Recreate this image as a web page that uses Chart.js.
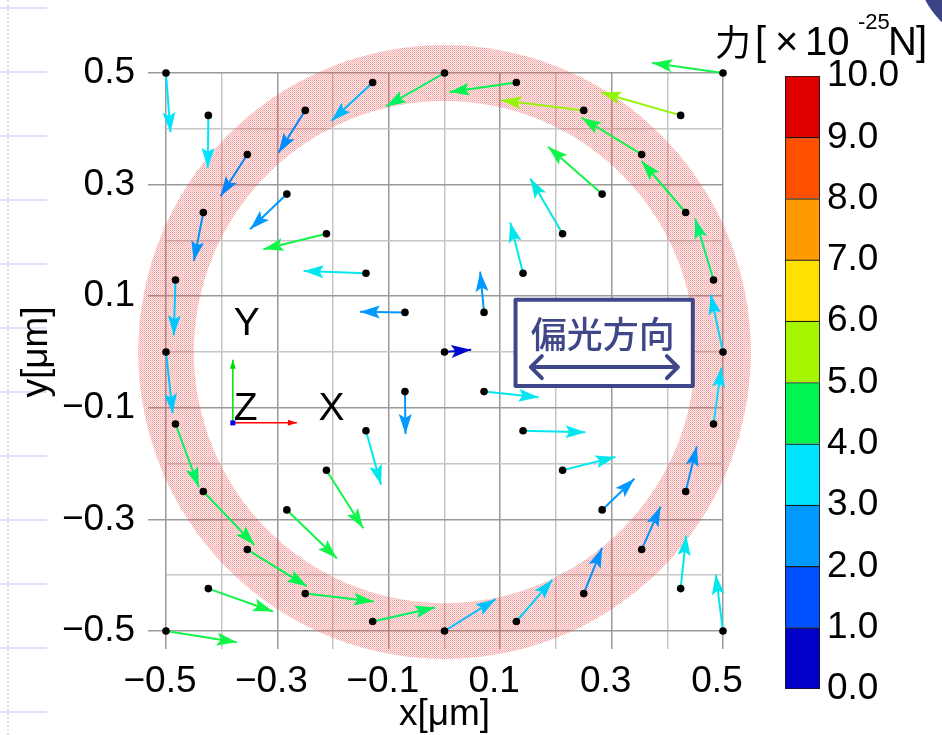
<!DOCTYPE html>
<html><head><meta charset="utf-8">
<script src="https://cdn.jsdelivr.net/npm/chart.js@4.4.1/dist/chart.umd.min.js"></script>
<style>
html,body{margin:0;padding:0;background:#fff;}
#wrap{position:relative;width:942px;height:735px;overflow:hidden;background:#fff;}
#main{position:absolute;left:0;top:0;}
#bar{position:absolute;left:700px;top:0;}
.deco-h{position:absolute;left:0;top:0;width:47px;height:735px;
 background:repeating-linear-gradient(to bottom,transparent 0px,transparent 7px,#dde4f6 7px,#dde4f6 9px,transparent 9px,transparent 64px);}
.deco-v{position:absolute;left:7px;top:0;width:0;height:735px;border-left:2px dotted #d6def4;}
.corner{position:absolute;left:917px;top:-113px;width:156px;height:156px;border-radius:50%;background:#3b4586;}
</style></head>
<body><div id="wrap">
<div class="deco-h"></div><div class="deco-v"></div><div class="corner"></div>
<canvas id="main" width="942" height="735"></canvas>
<canvas id="bar" width="242" height="735"></canvas>
</div>
<script>
// ---- data ----
const startX = [-0.5,-0.424,-0.354,-0.25,-0.129,0,0.129,0.25,0.354,0.433,0.483,0.5,0.483,0.433,0.354,0.25,0.129,0,-0.129,-0.25,-0.354,-0.433,-0.483,-0.5,-0.483,-0.433,
  -0.283,-0.212,-0.141,-0.071,0,0.071,0.141,0.212,0.283,0.424,0.5,0.071,0.141,0.212,0.283,0.424,0.5,-0.071,-0.141,-0.212,-0.283,-0.424,-0.5];
const startY = [0.5,0.424,0.354,0.433,0.483,0.5,0.483,0.433,0.354,0.25,0.129,0,-0.129,-0.25,-0.354,-0.433,-0.483,-0.5,-0.483,-0.433,-0.354,-0.25,-0.129,0,0.129,0.25,
  0.283,0.212,0.141,0.071,0,0.071,0.141,0.212,0.283,0.424,0.5,-0.071,-0.141,-0.212,-0.283,-0.424,-0.5,-0.071,-0.141,-0.212,-0.283,-0.424,-0.5];
const forceU = [0.008,-0.001,-0.048,-0.048,-0.074,-0.105,-0.120,-0.148,-0.108,-0.079,-0.033,-0.022,0.014,0.020,0.034,0.033,0.065,0.092,0.112,0.123,0.107,0.092,0.042,0.012,-0.003,-0.017,
  -0.066,-0.113,-0.112,-0.081,0.048,-0.007,-0.023,-0.058,-0.097,-0.143,-0.127,0.098,0.112,0.095,0.058,0.010,-0.013,0.001,0.027,0.066,0.090,0.116,0.127];
const forceV = [-0.106,-0.094,-0.075,-0.076,-0.069,-0.060,-0.017,0.018,0.066,0.092,0.110,0.103,0.101,0.081,0.077,0.082,0.075,0.057,0.025,-0.014,-0.066,-0.096,-0.113,-0.110,-0.099,-0.087,
  -0.063,-0.028,0.004,0.001,0.004,0.073,0.091,0.099,0.085,0.041,0.018,-0.010,-0.003,0.024,0.056,0.095,0.101,-0.076,-0.097,-0.104,-0.087,-0.041,-0.020];
const forceMag = [3.5,3.5,2.2,2.3,2.9,4.4,4.5,5.4,4.6,4.5,4.3,3.3,3.4,2.4,2.4,2.4,3.2,3.0,4.4,4.5,4.5,4.5,4.4,3.1,3.1,2.4,
  2.5,4.6,3.6,2.5,0.6,2.5,3.6,3.7,4.6,5.4,4.6,3.6,3.6,3.6,2.5,3.6,3.6,2.5,3.6,4.6,4.6,4.6,4.6];
const gridValues = [-0.5,-0.4,-0.3,-0.2,-0.1,0,0.1,0.2,0.3,0.4,0.5];
const tickValues = [-0.5,-0.3,-0.1,0.1,0.3,0.5];
const tickLabels = ['\u22120.5','\u22120.3','\u22120.1','0.1','0.3','0.5'];
const colorLevels = [0,1,2,3,4,5,6,7,8,9,10];
const levelColors = ['#0000c8','#0050ff','#0099ff','#00e5ff','#00f550','#a6f500','#ffe000','#ff9a00','#ff5000','#e00000'];
const ringRadii = [0.45,0.55];

// ---- helpers ----
Chart.defaults.font.family = '"Liberation Sans", Arial, sans-serif';
function hexRgb(h){return [parseInt(h.slice(1,3),16),parseInt(h.slice(3,5),16),parseInt(h.slice(5,7),16)];}
function colorFor(f){
  const t=Math.min(Math.max(f-0.5,0),9), i=Math.min(Math.floor(t),8), a=t-i;
  const c0=hexRgb(levelColors[i]), c1=hexRgb(levelColors[i+1]);
  return 'rgb('+c0.map((c,k)=>Math.round(c+(c1[k]-c)*a)).join(',')+')';
}
function labelFor(v){const k=tickValues.findIndex(t=>Math.abs(t-v)<1e-6);return k>=0?tickLabels[k]:'';}
function isMajor(v){return tickValues.some(t=>Math.abs(t-v)<1e-6);}
const majorCol='#9a9a9a', minorCol='#c6c6c6';

// ring pattern (halftone-like red dots)
const pc=document.createElement('canvas');pc.width=2;pc.height=2;
const pctx=pc.getContext('2d');
pctx.fillStyle='rgba(238,55,55,0.5)';pctx.fillRect(0,0,1,1);
pctx.fillStyle='rgba(238,55,55,0.36)';pctx.fillRect(1,1,1,1);
pctx.fillStyle='rgba(242,130,130,0.14)';pctx.fillRect(1,0,1,1);pctx.fillRect(0,1,1,1);

const ringPlugin={id:'ring',beforeDatasetsDraw(chart){
  const {ctx,scales:{x,y}}=chart;
  const cx=x.getPixelForValue(0), cy=y.getPixelForValue(0);
  const rxo=x.getPixelForValue(ringRadii[1])-cx, ryo=cy-y.getPixelForValue(ringRadii[1]);
  const rxi=x.getPixelForValue(ringRadii[0])-cx, ryi=cy-y.getPixelForValue(ringRadii[0]);
  ctx.save();
  ctx.beginPath();
  ctx.ellipse(cx,cy,rxo,ryo,0,0,Math.PI*2);
  ctx.ellipse(cx,cy,rxi,ryi,0,0,Math.PI*2,true);
  ctx.fillStyle=ctx.createPattern(pc,'repeat');
  ctx.fill('evenodd');
  ctx.restore();
}};

const arrowHeads={id:'arrowHeads',afterDatasetsDraw(chart){
  const ctx=chart.ctx;
  chart.data.datasets.forEach((ds,i)=>{
    if(!ds.isArrow)return;
    const pts=chart.getDatasetMeta(i).data, p0=pts[0], p1=pts[1];
    const ang=Math.atan2(p1.y-p0.y,p1.x-p0.x);
    ctx.save();ctx.translate(p1.x,p1.y);ctx.rotate(ang);
    ctx.beginPath();ctx.moveTo(0,0);ctx.lineTo(-20,-6.5);ctx.lineTo(-16,0);ctx.lineTo(-20,6.5);ctx.closePath();
    ctx.fillStyle=ds.borderColor;ctx.fill();ctx.restore();
  });
}};

function smallArrow(ctx,x0,y0,x1,y1,col){
  ctx.strokeStyle=col;ctx.fillStyle=col;ctx.lineWidth=1.5;
  ctx.beginPath();ctx.moveTo(x0,y0);ctx.lineTo(x1,y1);ctx.stroke();
  const a=Math.atan2(y1-y0,x1-x0);
  ctx.save();ctx.translate(x1,y1);ctx.rotate(a);
  ctx.beginPath();ctx.moveTo(0,0);ctx.lineTo(-9,-3);ctx.lineTo(-9,3);ctx.closePath();ctx.fill();ctx.restore();
}

const annot={id:'annot',afterDraw(chart){
  const {ctx,scales:{x,y}}=chart;
  const X=v=>x.getPixelForValue(v), Y=v=>y.getPixelForValue(v);
  ctx.save();
  // coordinate triad
  const ox=X(-0.38), oy=Y(-0.127);
  smallArrow(ctx,ox,oy,ox,Y(-0.014),'#00dd00');
  smallArrow(ctx,ox,oy,X(-0.265),oy,'#ff0000');
  ctx.fillStyle='#0000ff';ctx.fillRect(ox-2.5,oy-2.5,5,5);
  ctx.fillStyle='#000';ctx.font='39px "Liberation Sans", Arial, sans-serif';
  ctx.textAlign='center';ctx.textBaseline='middle';
  ctx.fillText('Y',X(-0.355),Y(0.050));
  ctx.fillText('Z',X(-0.357),Y(-0.103));
  ctx.fillText('X',X(-0.203),Y(-0.103));
  // polarization box
  const bl=X(0.1275), br=X(0.4458), bt=Y(0.0935), bb=Y(-0.061);
  ctx.fillStyle='#fff';ctx.fillRect(bl,bt,br-bl,bb-bt);
  ctx.strokeStyle='#3f4789';ctx.lineWidth=4;ctx.lineJoin='round';
  ctx.strokeRect(bl,bt,br-bl,bb-bt);
  ctx.fillStyle='#3f4789';ctx.font='500 36px "Noto Sans CJK JP", sans-serif';
  ctx.fillText('偏光方向',X(0.284),Y(0.031));
  const ay=Y(-0.027), ax0=X(0.155), ax1=X(0.419);
  ctx.lineWidth=4;ctx.lineCap='round';
  ctx.beginPath();ctx.moveTo(ax0,ay);ctx.lineTo(ax1,ay);
  ctx.moveTo(ax0+11,ay-11);ctx.lineTo(ax0,ay);ctx.lineTo(ax0+11,ay+11);
  ctx.moveTo(ax1-11,ay-11);ctx.lineTo(ax1,ay);ctx.lineTo(ax1-11,ay+11);
  ctx.stroke();
  ctx.restore();
}};

const arrowDatasets=startX.map((x0,i)=>({
  isArrow:true,
  data:[{x:x0,y:startY[i]},{x:x0+forceU[i],y:startY[i]+forceV[i]}],
  showLine:true,borderColor:colorFor(forceMag[i]),borderWidth:2,
  pointRadius:0,pointHoverRadius:0,clip:false,order:1
}));
const dotDataset={data:startX.map((x0,i)=>({x:x0,y:startY[i]})),pointRadius:3.8,pointHoverRadius:3.8,
  backgroundColor:'#000',borderColor:'#000',borderWidth:0,showLine:false,clip:false,order:0};

const tickFont={size:37,family:'"Liberation Sans", Arial, sans-serif'};
new Chart(document.getElementById('main'),{
  type:'scatter',
  data:{datasets:[dotDataset,...arrowDatasets]},
  options:{
    responsive:false,animation:false,events:[],
    layout:{padding:{top:73,right:219,bottom:0,left:0}},
    plugins:{legend:{display:false},tooltip:{enabled:false}},
    scales:{
      x:{type:'linear',min:-0.5,max:0.5,
        afterFit:s=>{s.height=104;},
        afterBuildTicks:s=>{s.ticks=gridValues.map(v=>({value:v}));},
        ticks:{autoSkip:false,maxRotation:0,minRotation:0,font:tickFont,color:'#000',padding:11,labelOffset:-6,callback:v=>labelFor(v)},
        grid:{color:c=>isMajor(c.tick.value)?majorCol:minorCol,lineWidth:1.5,tickLength:18,
              tickColor:c=>isMajor(c.tick.value)?majorCol:minorCol},
        border:{display:false},
        title:{display:true,text:'x[μm]',color:'#000',font:{size:37,lineHeight:1.1},padding:{top:0,bottom:0}}
      },
      y:{type:'linear',min:-0.5,max:0.5,
        afterFit:s=>{s.width=166;},
        afterBuildTicks:s=>{s.ticks=gridValues.map(v=>({value:v}));},
        ticks:{autoSkip:false,font:tickFont,color:'#000',padding:13,callback:v=>labelFor(v)},
        grid:{color:c=>isMajor(c.tick.value)?majorCol:minorCol,lineWidth:1.5,tickLength:18,
              tickColor:c=>isMajor(c.tick.value)?majorCol:'rgba(0,0,0,0)'},
        border:{display:false},
        title:{display:true,text:'y[μm]',color:'#000',font:{size:37,lineHeight:1.1},padding:{top:16,bottom:0}}
      }
    }
  },
  plugins:[ringPlugin,arrowHeads,annot]
});

// ---- colour bar ----
const cbTitle={id:'cbTitle',afterDraw(chart){
  const ctx=chart.ctx;ctx.save();ctx.fillStyle='#000';ctx.textBaseline='alphabetic';ctx.textAlign='left';
  ctx.font='36px "Noto Sans CJK JP", sans-serif';ctx.fillText('力',15,56);
  ctx.font='40px "Liberation Sans", Arial, sans-serif';
  ctx.fillText('[',55,55);ctx.fillText('×',75,55);ctx.fillText('10',105,55);
  ctx.font='22px "Liberation Sans", Arial, sans-serif';ctx.fillText('-25',158,29);
  ctx.font='40px "Liberation Sans", Arial, sans-serif';ctx.fillText('N',188,55);ctx.fillText(']',216,55);
  ctx.restore();
}};
new Chart(document.getElementById('bar'),{
  type:'bar',
  data:{labels:[''],datasets:levelColors.map((c,i)=>({
    data:[colorLevels[i+1]-colorLevels[i]],backgroundColor:c,borderColor:'#1a1a1a',borderWidth:1.2,
    borderSkipped:i===0?false:'start',barPercentage:1,categoryPercentage:1}))},
  options:{
    responsive:false,animation:false,events:[],
    layout:{padding:{left:85,top:76,bottom:46,right:0}},
    plugins:{legend:{display:false},tooltip:{enabled:false}},
    scales:{
      x:{display:false,stacked:true},
      y:{stacked:true,position:'right',min:0,max:10,
        afterFit:s=>{s.width=122;},
        afterBuildTicks:s=>{s.ticks=colorLevels.map(v=>({value:v}));},
        ticks:{callback:v=>v.toFixed(1),font:tickFont,color:'#000',padding:7},
        grid:{display:false,drawTicks:false},border:{display:false}}
    }
  },
  plugins:[cbTitle]
});
</script>
</body></html>
